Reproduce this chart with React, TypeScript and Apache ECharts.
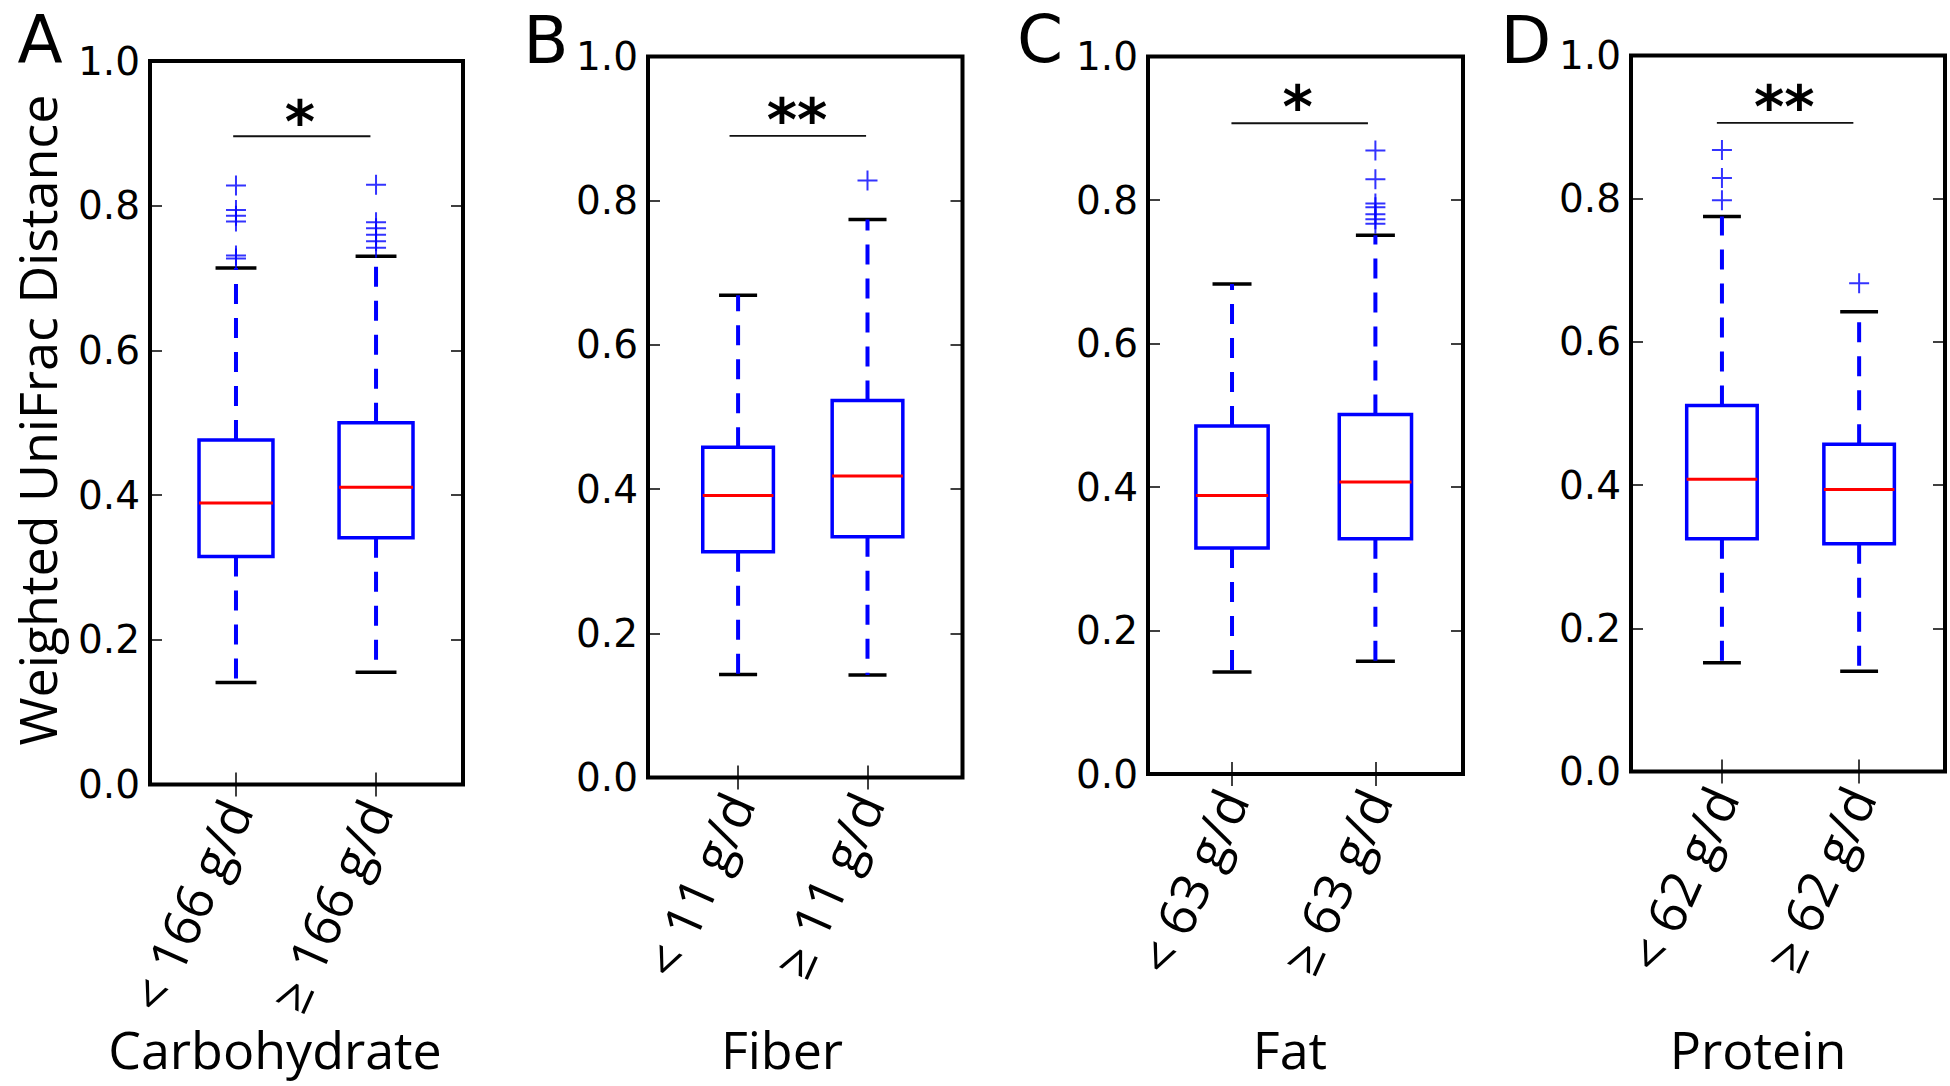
import React, { useEffect, useRef } from 'react';
import * as echarts from 'echarts';

// ---------- data ----------
const PANEL_LETTERS = ['A', 'B', 'C', 'D'];
const NUTRIENTS = ['Carbohydrate', 'Fiber', 'Fat', 'Protein'];
const GROUP_LABELS = [
  ['< 166 g/d', '≥ 166 g/d'],
  ['< 11 g/d', '≥ 11 g/d'],
  ['< 63 g/d', '≥ 63 g/d'],
  ['< 62 g/d', '≥ 62 g/d'],
];
const Y_TITLE = 'Weighted UniFrac Distance';
const Y_MIN = 0;
const Y_MAX = 1;
const Y_STEP = 0.2;

// each box: [min whisker, q1, median, q3, max whisker]
const BOXES_CARB = [
  [0.141, 0.315, 0.389, 0.476, 0.714],
  [0.155, 0.341, 0.411, 0.5, 0.73],
];
const BOXES_FIBER = [
  [0.143, 0.313, 0.391, 0.458, 0.669],
  [0.142, 0.334, 0.418, 0.523, 0.774],
];
const BOXES_FAT = [
  [0.142, 0.315, 0.388, 0.485, 0.683],
  [0.157, 0.328, 0.407, 0.501, 0.751],
];
const BOXES_PROTEIN = [
  [0.152, 0.325, 0.408, 0.511, 0.775],
  [0.14, 0.318, 0.394, 0.457, 0.642],
];

const OUTLIERS_CARB = [
  [0.828, 0.794, 0.786, 0.778, 0.731, 0.727],
  [0.829, 0.777, 0.769, 0.76, 0.751, 0.742],
];
const OUTLIERS_FIBER = [[], [0.828]];
const OUTLIERS_FAT = [[], [0.869, 0.829, 0.795, 0.79, 0.78, 0.773, 0.767]];
const OUTLIERS_PROTEIN = [[0.868, 0.829, 0.798], [0.682]];

const SIG_MARKS = ['*', '**', '*', '**'];
const SIG_LEVELS = [0.896, 0.89, 0.907, 0.906];

const ALL_BOXES = [BOXES_CARB, BOXES_FIBER, BOXES_FAT, BOXES_PROTEIN];
const ALL_OUTLIERS = [OUTLIERS_CARB, OUTLIERS_FIBER, OUTLIERS_FAT, OUTLIERS_PROTEIN];

// ---------- layout ----------
const GRIDS = [
  { left: 150, top: 61, width: 313, height: 723.5 },
  { left: 648, top: 56.5, width: 314.5, height: 721 },
  { left: 1148, top: 56.5, width: 315, height: 717.5 },
  { left: 1631, top: 55.5, width: 314, height: 716 },
];
const X_RANGES = [
  [0.386, 2.621],
  [0.304, 2.734],
  [0.414, 2.611],
  [0.337, 2.626],
];
const BOX_HALF = [0.264, 0.273, 0.252, 0.257];
const CAP_HALF = [0.146, 0.147, 0.136, 0.138];
const SIG_SPANS = [
  [0.98, 1.96],
  [0.934, 1.989],
  [0.996, 1.948],
  [0.963, 1.958],
];
const SIG_TEXT_POS = [
  [1.457, 0.927],
  [1.455, 0.923],
  [1.458, 0.941],
  [1.454, 0.939],
];
const LETTER_POS = [
  [40, 39],
  [546, 40],
  [1040, 39],
  [1526, 40],
];
const NUTRIENT_POS = [
  [275, 1048],
  [782, 1048],
  [1290, 1048],
  [1758, 1048],
];
const Y_TITLE_POS = [36, 420];

const BLUE = '#0000ff';
const RED = '#ff0000';
const BLACK = '#000000';
const PLUS = 'path://M9,0h2v9h9v2h-9v9h-2v-9h-9v-2h9z';

function makeBoxRender(p: number) {
  return (_params: any, api: any) => {
    const x = api.value(0);
    const mn = api.value(1);
    const q1 = api.value(2);
    const md = api.value(3);
    const q3 = api.value(4);
    const mx = api.value(5);
    const hw = BOX_HALF[p];
    const cw = CAP_HALF[p];
    const tl = api.coord([x - hw, q3]);
    const br = api.coord([x + hw, q1]);
    const m0 = api.coord([x - hw, md]);
    const m1 = api.coord([x + hw, md]);
    const topP = api.coord([x, mx]);
    const q3p = api.coord([x, q3]);
    const q1p = api.coord([x, q1]);
    const botP = api.coord([x, mn]);
    const ct0 = api.coord([x - cw, mx]);
    const ct1 = api.coord([x + cw, mx]);
    const cb0 = api.coord([x - cw, mn]);
    const cb1 = api.coord([x + cw, mn]);
    return {
      type: 'group',
      children: [
        {
          type: 'line',
          shape: { x1: ct0[0], y1: ct0[1], x2: ct1[0], y2: ct1[1] },
          style: { stroke: BLACK, lineWidth: 3.5 },
        },
        {
          type: 'line',
          shape: { x1: cb0[0], y1: cb0[1], x2: cb1[0], y2: cb1[1] },
          style: { stroke: BLACK, lineWidth: 3.5 },
        },
        {
          type: 'line',
          shape: { x1: q3p[0], y1: q3p[1], x2: topP[0], y2: topP[1] },
          style: { stroke: BLUE, lineWidth: 4, lineDash: [20, 14] },
        },
        {
          type: 'line',
          shape: { x1: q1p[0], y1: q1p[1], x2: botP[0], y2: botP[1] },
          style: { stroke: BLUE, lineWidth: 4, lineDash: [20, 14] },
        },
        {
          type: 'rect',
          shape: { x: tl[0], y: tl[1], width: br[0] - tl[0], height: br[1] - tl[1] },
          style: { fill: 'none', stroke: BLUE, lineWidth: 3.5 },
        },
        {
          type: 'line',
          shape: { x1: m0[0], y1: m0[1], x2: m1[0], y2: m1[1] },
          style: { stroke: RED, lineWidth: 3 },
        },
      ],
    };
  };
}

function makeSigRender(p: number) {
  return (_params: any, api: any) => {
    const a = api.coord([api.value(0), api.value(2)]);
    const b = api.coord([api.value(1), api.value(2)]);
    const t = api.coord([api.value(3), api.value(4)]);
    return {
      type: 'group',
      children: [
        {
          type: 'line',
          shape: { x1: a[0], y1: a[1], x2: b[0], y2: b[1] },
          style: { stroke: '#111', lineWidth: 1.8 },
        },
        {
          type: 'text',
          x: t[0],
          y: t[1] + 8,
          style: {
            text: SIG_MARKS[p],
            fontSize: 58,
            fontWeight: 'bold',
            fontFamily: 'DejaVu Sans',
            fill: BLACK,
            align: 'center',
            verticalAlign: 'middle',
          },
        },
      ],
    };
  };
}

function buildOption() {
  const grid: any[] = [];
  const xAxis: any[] = [];
  const yAxis: any[] = [];
  const series: any[] = [];
  const tickStyle = { color: BLACK, width: 1.5 };

  for (let p = 0; p < 4; p++) {
    grid.push({
      ...GRIDS[p],
      show: true,
      borderColor: BLACK,
      borderWidth: 4,
      backgroundColor: 'transparent',
    });
    const [xmin, xmax] = X_RANGES[p];
    const positions = GROUP_LABELS[p].map((_, j) => j + 1);
    xAxis.push({
      type: 'value',
      gridIndex: p,
      position: 'bottom',
      min: xmin,
      max: xmax,
      axisLine: { show: false },
      splitLine: { show: false },
      axisTick: { show: true, inside: true, length: 12, customValues: positions, lineStyle: tickStyle },
      axisLabel: {
        show: true,
        customValues: positions,
        formatter: (v: number) => GROUP_LABELS[p][Math.round(v) - 1] ?? '',
        rotate: 66,
        margin: 18,
        fontFamily: 'Open Sans',
        fontSize: 52,
        color: BLACK,
      },
    });
    xAxis.push({
      type: 'value',
      gridIndex: p,
      position: 'top',
      min: xmin,
      max: xmax,
      axisLine: { show: false },
      splitLine: { show: false },
      axisTick: { show: true, inside: true, length: 12, customValues: positions, lineStyle: tickStyle },
      axisLabel: { show: false },
    });
    yAxis.push({
      type: 'value',
      gridIndex: p,
      position: 'left',
      min: Y_MIN,
      max: Y_MAX,
      interval: Y_STEP,
      axisLine: { show: false },
      splitLine: { show: false },
      axisTick: { show: true, inside: true, length: 12, lineStyle: tickStyle },
      axisLabel: {
        show: true,
        formatter: (v: number) => v.toFixed(1),
        fontFamily: 'DejaVu Sans',
        fontSize: 39,
        color: BLACK,
        margin: 10,
        showMinLabel: true,
        showMaxLabel: true,
      },
    });
    yAxis.push({
      type: 'value',
      gridIndex: p,
      position: 'right',
      min: Y_MIN,
      max: Y_MAX,
      interval: Y_STEP,
      axisLine: { show: false },
      splitLine: { show: false },
      axisTick: { show: true, inside: true, length: 12, lineStyle: tickStyle },
      axisLabel: { show: false },
    });

    series.push({
      type: 'custom',
      name: NUTRIENTS[p] + ' boxes',
      xAxisIndex: p * 2,
      yAxisIndex: p * 2,
      renderItem: makeBoxRender(p),
      encode: { x: 0, y: [1, 2, 3, 4, 5] },
      data: ALL_BOXES[p].map((b, j) => [j + 1, ...b]),
      silent: true,
      z: 3,
    });
    const outData: number[][] = [];
    ALL_OUTLIERS[p].forEach((arr, j) => arr.forEach((v) => outData.push([j + 1, v])));
    series.push({
      type: 'scatter',
      name: NUTRIENTS[p] + ' outliers',
      xAxisIndex: p * 2,
      yAxisIndex: p * 2,
      symbol: PLUS,
      symbolSize: 20,
      itemStyle: { color: BLUE },
      data: outData,
      silent: true,
      z: 4,
    });
    series.push({
      type: 'custom',
      name: NUTRIENTS[p] + ' significance',
      xAxisIndex: p * 2,
      yAxisIndex: p * 2,
      renderItem: makeSigRender(p),
      encode: { x: [0, 1, 3], y: [2, 4] },
      data: [[SIG_SPANS[p][0], SIG_SPANS[p][1], SIG_LEVELS[p], SIG_TEXT_POS[p][0], SIG_TEXT_POS[p][1]]],
      silent: true,
      clip: false,
      z: 5,
    });
  }

  const graphic: any[] = [];
  for (let p = 0; p < 4; p++) {
    graphic.push({
      type: 'text',
      x: LETTER_POS[p][0],
      y: LETTER_POS[p][1],
      style: {
        text: PANEL_LETTERS[p],
        fontFamily: 'DejaVu Sans',
        fontSize: 66,
        fill: BLACK,
        align: 'center',
        verticalAlign: 'middle',
        textAlign: 'center',
        textVerticalAlign: 'middle',
      },
    });
    graphic.push({
      type: 'text',
      x: NUTRIENT_POS[p][0],
      y: NUTRIENT_POS[p][1],
      style: {
        text: NUTRIENTS[p],
        fontFamily: 'Open Sans',
        fontSize: 52,
        fill: BLACK,
        align: 'center',
        verticalAlign: 'middle',
        textAlign: 'center',
        textVerticalAlign: 'middle',
      },
    });
  }
  graphic.push({
    type: 'text',
    x: Y_TITLE_POS[0],
    y: Y_TITLE_POS[1],
    rotation: Math.PI / 2,
    style: {
      text: Y_TITLE,
      fontFamily: 'Open Sans',
      fontSize: 52,
      fill: BLACK,
      align: 'center',
      verticalAlign: 'middle',
      textAlign: 'center',
      textVerticalAlign: 'middle',
    },
  });

  return {
    animation: false,
    backgroundColor: '#ffffff',
    grid,
    xAxis,
    yAxis,
    series,
    graphic,
  };
}

export default function App() {
  const ref = useRef<HTMLDivElement>(null);
  useEffect(() => {
    if (!ref.current) return;
    const chart = echarts.init(ref.current, undefined, { renderer: 'svg' });
    chart.setOption(buildOption() as any);
    return () => chart.dispose();
  }, []);
  return (
    <div
      ref={ref}
      style={{ position: 'absolute', left: 0, top: 0, width: 1950, height: 1086, background: '#fff' }}
    />
  );
}
